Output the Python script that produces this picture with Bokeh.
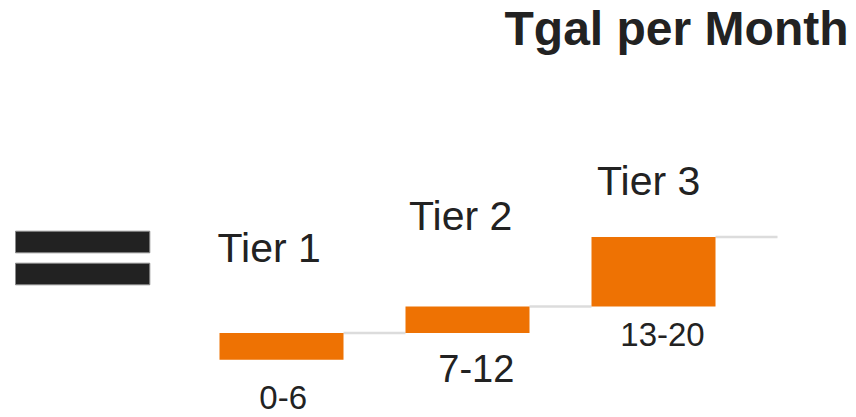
from bokeh.plotting import figure
from bokeh.models import Range1d, ColumnDataSource
from bokeh.core.properties import value
from bokeh.embed import file_html
from bokeh.resources import INLINE

# ---- data ---------------------------------------------------------------
tiers = ["Tier 1", "Tier 2", "Tier 3"]
usage_bands = ["0-6", "7-12", "13-20"]
rate_steps = [1.0, 1.0, 2.6]          # increase of the rate at each tier
chart_title = "Tgal per Month"

# cumulative steps -> bottom / top of each block
bottoms, tops = [], []
level = 0.0
for s in rate_steps:
    bottoms.append(level)
    level += s
    tops.append(level)

# ---- layout -------------------------------------------------------------
W, H = 856, 417
BAR_W = 2.0          # block width in x units
PITCH = 3.0          # block + gap
PX_X = 62.0          # pixels per x unit
PX_Y = 26.7          # pixels per y unit
X0 = 219.0           # page x of x = 0
Y0 = 359.3           # page y (from top) of y = 0
BASELINE_SHIFT = 0.4 # baseline correction, in em

def ux(px):
    return (px - X0) / PX_X

def uy(py):
    return (Y0 - py) / PX_Y

def text_y(baseline_px, size_px):
    return uy(baseline_px - BASELINE_SHIFT * size_px)

lefts = [i * PITCH for i in range(len(tiers))]
rights = [l + BAR_W for l in lefts]

p = figure(width=W, height=H,
           x_range=Range1d(ux(0), ux(W)), y_range=Range1d(uy(H), uy(0)),
           output_backend="svg", toolbar_location=None,
           x_axis_location=None, y_axis_location=None, min_border=0)
p.grid.visible = False
p.outline_line_color = None
p.background_fill_color = "white"
p.border_fill_color = "white"

# grey connector running from the top of one block to the next
seg_x1 = lefts[1:] + [rights[-1] + (PITCH - BAR_W)]
p.segment(x0=rights, y0=tops, x1=seg_x1, y1=tops,
          line_color="#dcdcdc", line_width=2.5)

# tier blocks
p.quad(left=lefts, right=rights, bottom=bottoms, top=tops,
       fill_color="#EE7203", line_color=None)

# equals sign on the left
eq_left, eq_right = ux(15), ux(149.3)
p.quad(left=[eq_left, eq_left], right=[eq_right, eq_right],
       top=[uy(230.7), uy(262.7)], bottom=[uy(252.3), uy(284.3)],
       fill_color="#222222", line_color="#8a8a8a", line_width=1)

# tier names above the blocks
TIER_SIZE = 41
tier_label_x = [ux(217.0), ux(408.5), ux(596.5)]
tier_label_y = [text_y(264.0, TIER_SIZE), text_y(231.7, TIER_SIZE),
                text_y(196.7, TIER_SIZE)]
p.text(x=tier_label_x, y=tier_label_y, text=tiers,
       text_font=value("Liberation Sans"), text_font_size=f"{TIER_SIZE}px",
       text_color="#222222", text_align="left", text_baseline="alphabetic")

# usage bands below the blocks
band_sizes = [33, 38, 33]
band_baselines = [410.0, 383.3, 347.3]
band_src = ColumnDataSource(dict(
    x=[ux(282.7), ux(475.8), ux(662.0)],
    y=[text_y(b, s) for b, s in zip(band_baselines, band_sizes)],
    text=usage_bands,
    size=[f"{s}px" for s in band_sizes],
))
p.text(x="x", y="y", text="text", source=band_src,
       text_font=value("Liberation Sans"), text_font_size="size",
       text_color="#222222", text_align="center", text_baseline="alphabetic")

# title, top right
TITLE_SIZE = 48
p.text(x=[ux(848)], y=[text_y(47, TITLE_SIZE)], text=[chart_title],
       text_font=value("Liberation Sans"), text_font_size=f"{TITLE_SIZE}px",
       text_font_style="bold", text_color="#222222",
       text_align="right", text_baseline="alphabetic")

open("out.html", "w").write(file_html(p, INLINE))
